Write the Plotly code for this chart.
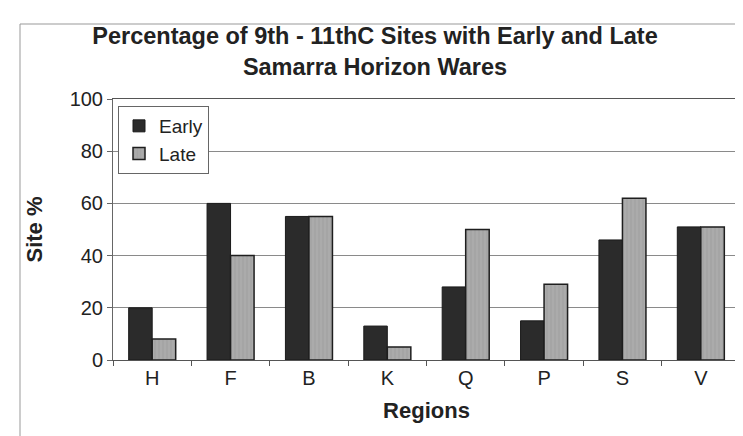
import plotly.graph_objects as go

regions = ["H", "F", "B", "K", "Q", "P", "S", "V"]
early = [20, 60, 55, 13, 28, 15, 46, 51]
late = [8, 40, 55, 5, 50, 29, 62, 51]
y_ticks = [0, 20, 40, 60, 80, 100]

W, H = 743, 436
L, R, T, B = 105, 11, 91, 84
pw, ph = W - L - R, H - T - B

def px(x):
    return (x - L) / pw

def py(y):
    return (H - B - y) / ph

FONT = "Liberation Sans, Arial"
TXT = "#222222"

fig = go.Figure()
fig.add_trace(go.Bar(
    x=regions, y=early, name="Early",
    marker=dict(color="#2b2b2b", line=dict(color="#1a1a1a", width=1)),
))
fig.add_trace(go.Bar(
    x=regions, y=late, name="Late",
    marker=dict(color="#ababab", line=dict(color="#1e1e1e", width=1.5),
                pattern=dict(shape="|", fgcolor="#8c8c8c", size=4, solidity=0.2)),
))

fig.update_layout(
    width=W, height=H,
    margin=dict(l=L, r=R, t=T, b=B, autoexpand=False),
    paper_bgcolor="white", plot_bgcolor="white",
    barmode="group", bargap=0.4, bargroupgap=0,
    font=dict(family=FONT, color=TXT),
    title=dict(
        text="Percentage of 9th - 11thC Sites with Early and Late<br>Samarra Horizon Wares",
        font=dict(size=23.5, family=FONT, color=TXT, weight="bold"),
        x=367 / W, xanchor="center", xref="container",
        y=1 - 36 / H, yanchor="top", yref="container",
    ),
    legend=dict(
        x=px(110), y=py(98), xanchor="left", yanchor="top",
        bordercolor="#666666", borderwidth=1, bgcolor="white",
        font=dict(size=19, color=TXT),
        itemwidth=30, tracegroupgap=2,
    ),
    showlegend=True,
    xaxis=dict(
        title=dict(text="Regions", font=dict(size=22, weight="bold", color=TXT), standoff=14),
        tickfont=dict(size=20, color=TXT),
        showline=True, linecolor="#555555", linewidth=1, mirror=True,
        ticks="outside", tickson="boundaries", ticklen=5, tickcolor="#555555",
        showgrid=False,
    ),
    yaxis=dict(
        title=dict(text="Site %", font=dict(size=22, weight="bold", color=TXT), standoff=20),
        tickfont=dict(size=20, color=TXT),
        range=[0, 100], tickvals=y_ticks,
        showline=True, linecolor="#666666", linewidth=1, mirror=True,
        ticks="outside", ticklen=5, tickcolor="#666666",
        showgrid=True, gridcolor="#8a8a8a", gridwidth=1,
        zeroline=False,
    ),
    shapes=[dict(
        type="rect", xref="paper", yref="paper",
        x0=px(12), x1=px(760), y0=py(450), y1=py(16),
        line=dict(color="#999999", width=1), fillcolor="rgba(0,0,0,0)", layer="below",
    )],
)

fig.write_html("out.html")
